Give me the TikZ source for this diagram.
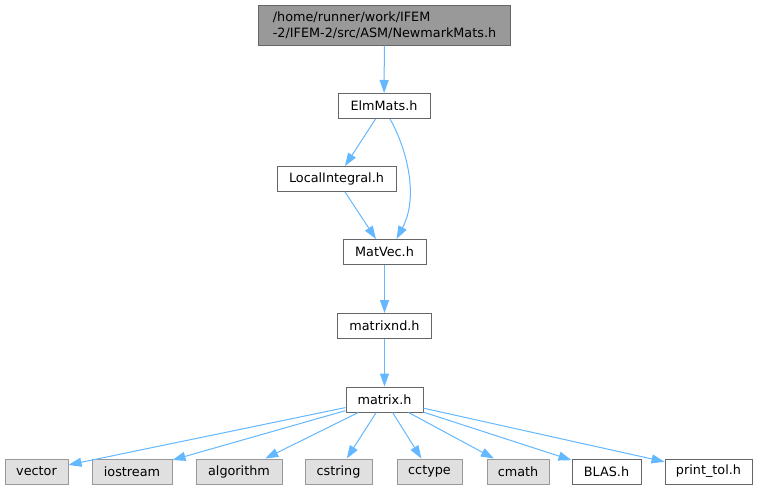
\documentclass[tikz,border=0pt]{standalone}
\usepackage{fontspec}
\setmainfont{DejaVu Sans}
\usetikzlibrary{arrows.meta}
\definecolor{edgeblue}{HTML}{63B8FF}
\definecolor{darkborder}{HTML}{666666}
\definecolor{lightborder}{HTML}{999999}
\definecolor{topfill}{HTML}{999999}
\definecolor{grayfill}{HTML}{E0E0E0}
\newcommand{\dvfont}{\fontsize{12.8}{15.5}\selectfont}
\tikzset{
  filenode/.style={draw=darkborder, fill=white, line width=1pt, minimum height=25pt, inner sep=0pt, font=\dvfont, text=black},
  sysnode/.style={draw=lightborder, fill=grayfill, line width=1pt, minimum height=25pt, inner sep=0pt, font=\dvfont, text=black},
  topnode/.style={draw=darkborder, fill=topfill, line width=1pt, minimum height=40pt, inner sep=0pt, font=\dvfont, text=black, align=left},
  dep/.style={draw=edgeblue, line width=1pt, -{Triangle[length=13pt,width=9pt]}, fill=none},
}
\begin{document}
\begin{tikzpicture}[x=1pt,y=-1pt]
\fill[white] (0,0) rectangle (759,491);
\useasboundingbox (0,0) rectangle (759,491);
\node[topnode, minimum width=252pt] (top) at (384.5,25) {/home/runner/work/IFEM\\-2/IFEM-2/src/ASM/NewmarkMats.h};
\node[filenode, minimum width=92pt] (elm) at (384,106) {ElmMats.h};
\node[filenode, minimum width=119pt] (loc) at (336.5,179) {LocalIntegral.h};
\node[filenode, minimum width=83pt] (mv) at (384.5,252) {MatVec.h};
\node[filenode, minimum width=94pt] (mnd) at (384.5,326) {matrixnd.h};
\node[filenode, minimum width=77pt] (mat) at (384.5,399.5) {matrix.h};
\node[sysnode, minimum width=63pt] (vec) at (36.5,471.5) {vector};
\node[sysnode, minimum width=80pt] (ios) at (132,471.5) {iostream};
\node[sysnode, minimum width=86pt] (alg) at (239,471.5) {algorithm};
\node[sysnode, minimum width=67pt] (cstr) at (338.5,471.5) {cstring};
\node[sysnode, minimum width=65pt] (cct) at (429.5,471.5) {cctype};
\node[sysnode, minimum width=62pt] (cm) at (518,471.5) {cmath};
\node[filenode, minimum width=69pt] (blas) at (606.5,471.5) {BLAS.h};
\node[filenode, minimum width=87pt] (ptol) at (708.5,471.5) {print\_tol.h};
\draw[dep] (top) -- (elm);
\draw[dep] (elm) -- (loc);
\draw[dep] ([xshift=6pt]elm.south) .. controls (405,145) and (420,195) .. ([xshift=12pt]mv.north);
\draw[dep] (loc) -- (mv);
\draw[dep] (mv) -- (mnd);
\draw[dep] (mnd) -- (mat);
\foreach \t in {vec,ios,alg,cstr,cct,cm,blas,ptol}{
  \draw[dep] (mat) -- (\t);
}
\end{tikzpicture}
\end{document}
